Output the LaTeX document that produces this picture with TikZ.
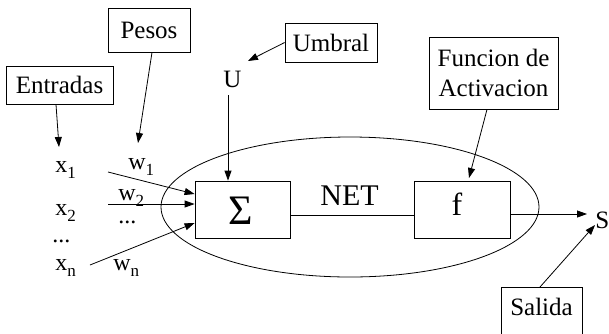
\documentclass[tikz,border=0pt]{standalone}
\usepackage{fontspec}
\setmainfont{Liberation Serif}
\usetikzlibrary{arrows.meta,shapes.geometric}
\newcommand\lowsub[1]{\raisebox{-6pt}{\fontsize{17}{17}\selectfont #1}}
\tikzset{
  lbl/.style={font=\fontsize{25}{30}\selectfont, inner sep=0pt},
  box/.style={draw, inner sep=0pt},
  var/.style={font=\fontsize{24}{28}\selectfont, inner sep=0pt},
  conn/.style={-{Triangle[length=10pt,width=7pt]}},
}
\begin{document}
\begin{tikzpicture}[x=1pt,y=-1pt, line width=0.8pt]
\useasboundingbox (0,0) rectangle (609,333);
\clip (0,0) rectangle (609,333);

% neuron ellipse
\node[draw, ellipse, minimum width=378pt, minimum height=140pt, inner sep=0pt] (neuron) at (350,207) {};

% label boxes
\node[box, lbl, minimum width=82pt, minimum height=44pt] (pesos) at (149,30) {Pesos};
\node[box, lbl, minimum width=107pt, minimum height=38pt] (entradas) at (59.5,85) {Entradas};
\node[box, lbl, minimum width=92pt, minimum height=39pt] (umbral) at (331,42.5) {Umbral};
\node[box, lbl, minimum width=129pt, minimum height=72pt, align=center] (funcion) at (493.5,73) {Funcion de\\Activacion};
\node[box, lbl, minimum width=81pt, anchor=north, text height=28pt, text depth=25pt] (salida) at (541.5,287) {Salida};

% processing boxes
\node[box, minimum width=95pt, minimum height=57pt] (sig) at (242.5,209.5) {};
\node[font=\fontsize{42}{42}\selectfont, inner sep=0pt, anchor=base] (sigtxt) at (241,224) {Σ};
\node[box, minimum width=96pt, minimum height=57pt] (fbox) at (462,209.5) {};
\node[font=\fontsize{32}{32}\selectfont, inner sep=0pt, anchor=base] (ftxt) at (457,215) {f};

% variables
\node[var, anchor=base west] (x1) at (55,172) {x\lowsub{1}};
\node[var, anchor=base west] (x2) at (55,215) {x\lowsub{2}};
\node[var, anchor=base west] (xdots) at (52,242) {...};
\node[var, anchor=base west] (xn) at (55,270) {x\lowsub{n}};
\node[var, anchor=base west] (w1) at (128,169) {w\lowsub{1}};
\node[var, anchor=base west] (w2) at (118,200) {w\lowsub{2}};
\node[var, anchor=base west] (wdots) at (118,223) {...};
\node[var, anchor=base west] (wn) at (113,270) {w\lowsub{n}};
\node[lbl, anchor=base west] (U) at (223,87) {U};
\node[font=\fontsize{30}{30}\selectfont, inner sep=0pt, anchor=base west] (net) at (320,205) {NET};
\node[lbl, anchor=base west] (S) at (595,228) {S};

% free ends
\coordinate (i1) at (108,172);
\coordinate (i2) at (108,204);
\coordinate (in) at (90,265);
\coordinate (u0) at (228,95);
\coordinate (xtop) at (59,147);
\coordinate (wtop) at (138,143);
\coordinate (utop) at (248,61);
\coordinate (ftop) at (469,178);
\coordinate (stip) at (587,214);
\coordinate (sbot) at (595,225);

% connectors
\draw[conn] (entradas.south -| 56,0) -- (xtop);
\draw[conn] (pesos.south -| 152,0) -- (wtop);
\draw[conn] (umbral.west) -- (utop);
\draw[conn] (funcion.south -| 487,0) -- (ftop);
\draw[conn] (salida.north -| 540,0) -- (sbot);
\draw[conn] (i1) -- ([yshift=15.5pt]sig.west);
\draw[conn] (i2) -- ([yshift=5.5pt]sig.west);
\draw[conn] (in) -- ([yshift=-13.5pt]sig.west);
\draw[conn] (u0) -- (u0 |- sig.north);
\draw ([yshift=-5.5pt]sig.east) -- ([yshift=-5.5pt]fbox.west);
\draw[conn] ([yshift=-4.5pt]fbox.east) -- (stip);
\end{tikzpicture}
\end{document}
